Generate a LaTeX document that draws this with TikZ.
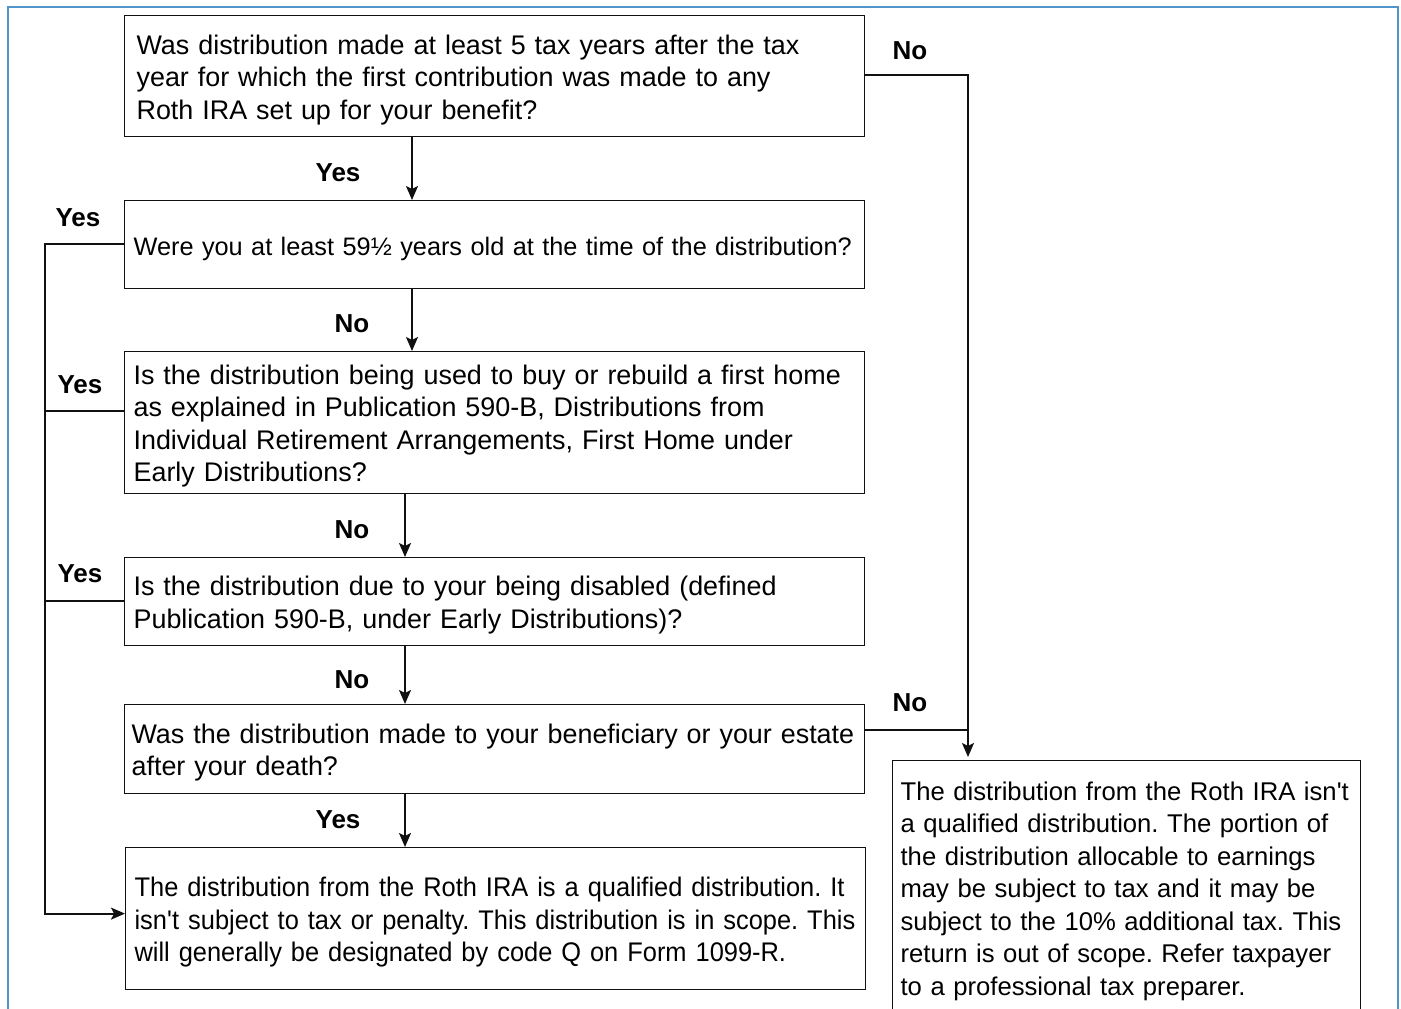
\documentclass[tikz,border=0pt]{standalone}
\usepackage{fontspec}
\setmainfont{Liberation Sans}
\newfontfamily\narrowfont{Liberation Sans}[FakeStretch=0.945]
\usetikzlibrary{calc,arrows.meta}
\definecolor{FrameBlue}{RGB}{ 80, 148, 200 }
\definecolor{Ink}{HTML}{111111}
\newcommand{\bigtext}{\fontsize{26.9}{32.5}\selectfont\frenchspacing}
\newcommand{\midtext}{\fontsize{25.65}{32.5}\selectfont\frenchspacing}
\newcommand{\smalltext}{\fontsize{25.3}{32.5}\selectfont\frenchspacing}

\begin{document}
\begin{tikzpicture}[x=1pt, y=-1pt,
    qbox/.style={draw=Ink, line width=1.2pt, anchor=north west, align=left,
        inner xsep=7pt, inner ysep=0pt, text width=726pt, minimum width=740pt,
        font=\bigtext, execute at begin node={\rule{0pt}{26.5pt}}},
    answer/.style={font=\fontsize{26}{32.5}\selectfont\bfseries},
    flow/.style={Ink, line width=1.8pt, -{Stealth[length=14pt, width=12pt, inset=3pt]}},
    rail/.style={Ink, line width=1.8pt}]
\useasboundingbox (0,0) rectangle (1401,1009);
\draw[FrameBlue, line width=2.2pt] (8,7) rectangle (1398,1040);

% question boxes
\node[qbox, minimum height=121pt, inner xsep=12pt, text width=716pt] (q1) at (124,15)
    {Was distribution made at least 5 tax years after the tax\\
     year for which the first contribution was made to any\\
     Roth IRA set up for your benefit?};
\node[qbox, minimum height=88pt, inner xsep=9pt, text width=722pt, font=\smalltext] (q2) at (124,200)
    {Were you at least 59\textonehalf\ years old at the time of the distribution?};
\node[qbox, minimum height=142pt, inner xsep=9pt, text width=722pt] (q3) at (124,351)
    {Is the distribution being used to buy or rebuild a first home\\
     as explained in Publication 590-B, Distributions from\\
     Individual Retirement Arrangements, First Home under\\
     Early Distributions?};
\node[qbox, minimum height=88pt, inner xsep=9pt, text width=722pt] (q4) at (124,557)
    {Is the distribution due to your being disabled (defined\\
     Publication 590-B, under Early Distributions)?};
\node[qbox, minimum height=89pt] (q5) at (124,704)
    {Was the distribution made to your beneficiary or your estate\\
     after your death?};

% outcomes
\node[qbox, minimum height=142pt, inner xsep=9pt, text width=722pt, font=\bigtext\narrowfont]
    (yes-end) at (125,847)
    {The distribution from the Roth IRA is a qualified distribution. It\\
     isn\textquotesingle t subject to tax or penalty. This distribution is in scope. This\\
     will generally be designated by code Q on Form 1099-R.};
\node[qbox, minimum height=253pt, minimum width=468pt, inner xsep=8pt, text width=452pt,
    font=\midtext] (no-end) at (892,760)
    {The distribution from the Roth IRA isn\textquotesingle t\\
     a qualified distribution. The portion of\\
     the distribution allocable to earnings\\
     may be subject to tax and it may be\\
     subject to the 10\% additional tax. This\\
     return is out of scope. Refer taxpayer\\
     to a professional tax preparer.};

% rails
\coordinate (left-rail) at (45,0);
\coordinate (right-rail) at (968,0);

% down the middle
\draw[flow] ($(q1.south west)+(288,0)$) -- ($(q2.north west)+(288,0)$);
\draw[flow] ($(q2.south west)+(288,0)$) -- ($(q3.north west)+(288,0)$);
\draw[flow] ($(q3.south west)+(281,0)$) -- ($(q4.north west)+(281,0)$);
\draw[flow] ($(q4.south west)+(281,0)$) -- ($(q5.north west)+(281,0)$);
\draw[flow] ($(q5.south west)+(281,0)$) -- ($(yes-end.north west)+(280,0)$);

\node[answer] (a1) at (338,173) {Yes};
\node[answer] (a2) at (352,324) {No};
\node[answer] (a3) at (352,530) {No};
\node[answer] (a4) at (352,680) {No};
\node[answer] (a5) at (338,820) {Yes};

% left side, yes branches
\draw[flow] ([yshift=1pt]q2.west) -- ([yshift=1pt]q2.west -| left-rail)
    |- ([yshift=5pt]yes-end.west);
\draw[rail] ([yshift=12pt]q3.west) -- ([yshift=12pt]q3.west -| left-rail);
\draw[rail] ([yshift=1pt]q4.west) -- ([yshift=1pt]q4.west -| left-rail);
\node[answer] (b1) at (78,218) {Yes};
\node[answer] (b2) at (80,385) {Yes};
\node[answer] (b3) at (80,574) {Yes};

% right side, no branches
\draw[flow] ([yshift=1.5pt]q1.east) -- ([yshift=1.5pt]q1.east -| right-rail)
    -- ($(no-end.north west)+(76,-3)$);
\draw[rail] ([yshift=19pt]q5.east) -- ([yshift=19pt]q5.east -| right-rail);
\node[answer] (c1) at (910,51) {No};
\node[answer] (c2) at (910,703) {No};

\end{tikzpicture}
\end{document}
